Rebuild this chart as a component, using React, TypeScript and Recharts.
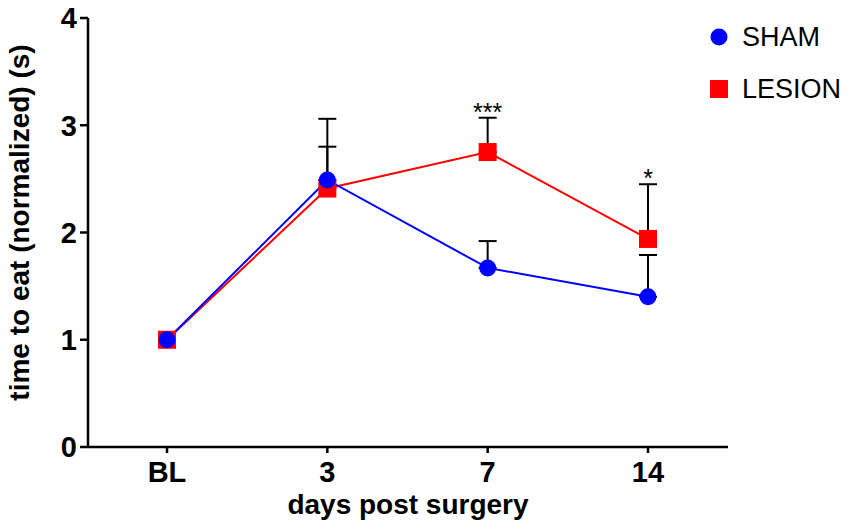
import { CartesianGrid, ErrorBar, LabelList, Legend, Line, LineChart, XAxis, YAxis } from 'recharts';

const categories = ['BL', '3', '7', '14'];
const shamMean = [1.0, 2.49, 1.67, 1.4];
const shamSem = [0, 0.31, 0.25, 0.39];
const lesionMean = [1.0, 2.41, 2.75, 1.94];
const lesionSem = [0, 0.65, 0.32, 0.51];
const significance = ['', '', '***', '*'];
const yTicks = [0, 1, 2, 3, 4];
const legendOrder = ['SHAM', 'LESION'];

const data = categories.map((day, i) => ({
  day,
  sham: shamMean[i],
  shamErr: [0, shamSem[i]],
  lesion: lesionMean[i],
  lesionErr: [0, lesionSem[i]],
  lesionTop: lesionMean[i] + lesionSem[i],
  sig: significance[i],
}));

const SHAM_COLOR = '#0000ff';
const LESION_COLOR = '#ff0000';
const font = "'Liberation Sans', Arial, Helvetica, sans-serif";

const legendShapes: Record<string, 'circle' | 'square'> = { SHAM: 'circle', LESION: 'square' };

function LegendBox({ payload }: any) {
  const items = legendOrder
    .map((name) => (payload || []).find((p: any) => p.value === name))
    .filter(Boolean);
  return (
    <div style={{ fontFamily: font }}>
      {items.map((entry: any) => (
        <div key={entry.value} style={{ display: 'flex', alignItems: 'center', height: 52 }}>
          <svg width={20} height={20}>
            {legendShapes[entry.value] === 'circle' ? (
              <circle cx={10} cy={10} r={8.5} fill={entry.color} />
            ) : (
              <rect x={1} y={1} width={18} height={18} fill={entry.color} />
            )}
          </svg>
          <span style={{ marginLeft: 13, fontSize: 27, color: '#000', lineHeight: 1 }}>{entry.value}</span>
        </div>
      ))}
    </div>
  );
}

function SquareDot({ cx, cy, index }: any) {
  return <rect key={index} x={cx - 9} y={cy - 9} width={18} height={18} fill={LESION_COLOR} />;
}

function CircleDot({ cx, cy, index }: any) {
  return <circle key={index} cx={cx} cy={cy} r={8.5} fill={SHAM_COLOR} />;
}

const tickStyle = { fill: '#000', fontSize: 29, fontWeight: 700, fontFamily: font };

export default function App() {
  return (
    <div style={{ position: 'absolute', left: 0, top: 0 }}>
      <LineChart width={850} height={530} data={data} margin={{ top: 18, right: 122, bottom: 0, left: 0 }}>
        <CartesianGrid stroke="none" />
        <XAxis
          dataKey="day"
          height={83}
          padding={{ left: 79, right: 80 }}
          stroke="#000"
          strokeWidth={2.5}
          tickSize={6}
          tickMargin={8}
          tick={tickStyle}
          label={({ viewBox }: any) => (
            <text
              x={viewBox.x + viewBox.width / 2}
              y={514}
              textAnchor="middle"
              fontSize={28}
              fontWeight={700}
              fontFamily={font}
              fill="#000"
            >
              days post surgery
            </text>
          )}
        />
        <YAxis
          width={88}
          domain={[0, 4]}
          ticks={yTicks}
          stroke="#000"
          strokeWidth={2.5}
          tickSize={8}
          tickMargin={3}
          tick={tickStyle}
          label={({ viewBox }: any) => {
            const cy = viewBox.y + viewBox.height / 2 - 10;
            return (
              <text
                x={19}
                y={cy}
                transform={`rotate(-90, 19, ${cy})`}
                textAnchor="middle"
                dominantBaseline="central"
                fontSize={28}
                fontWeight={700}
                fontFamily={font}
                fill="#000"
              >
                time to eat (normalized) (s)
              </text>
            );
          }}
        />
        <Legend
          layout="vertical"
          align="center"
          verticalAlign="middle"
          wrapperStyle={{ top: 11, left: 709, width: 140 }}
          content={<LegendBox />}
        />
        <Line
          name="LESION"
          dataKey="lesion"
          stroke={LESION_COLOR}
          strokeWidth={2}
          dot={<SquareDot />}
          activeDot={false}
          isAnimationActive={false}
        >
          <ErrorBar dataKey="lesionErr" direction="y" width={9} stroke="#000" strokeWidth={2} />
        </Line>
        <Line
          name="SHAM"
          dataKey="sham"
          stroke={SHAM_COLOR}
          strokeWidth={2}
          dot={<CircleDot />}
          activeDot={false}
          isAnimationActive={false}
        >
          <ErrorBar dataKey="shamErr" direction="y" width={9} stroke="#000" strokeWidth={2} />
        </Line>
        <Line
          dataKey="lesionTop"
          stroke="none"
          dot={false}
          activeDot={false}
          legendType="none"
          isAnimationActive={false}
        >
          <LabelList
            dataKey="sig"
            content={({ x, y, value }: any) =>
              value ? (
                <text x={x} y={y + 3} textAnchor="middle" fontSize={25} fontFamily={font} fill="#000">
                  {value}
                </text>
              ) : null
            }
          />
        </Line>
      </LineChart>
    </div>
  );
}
